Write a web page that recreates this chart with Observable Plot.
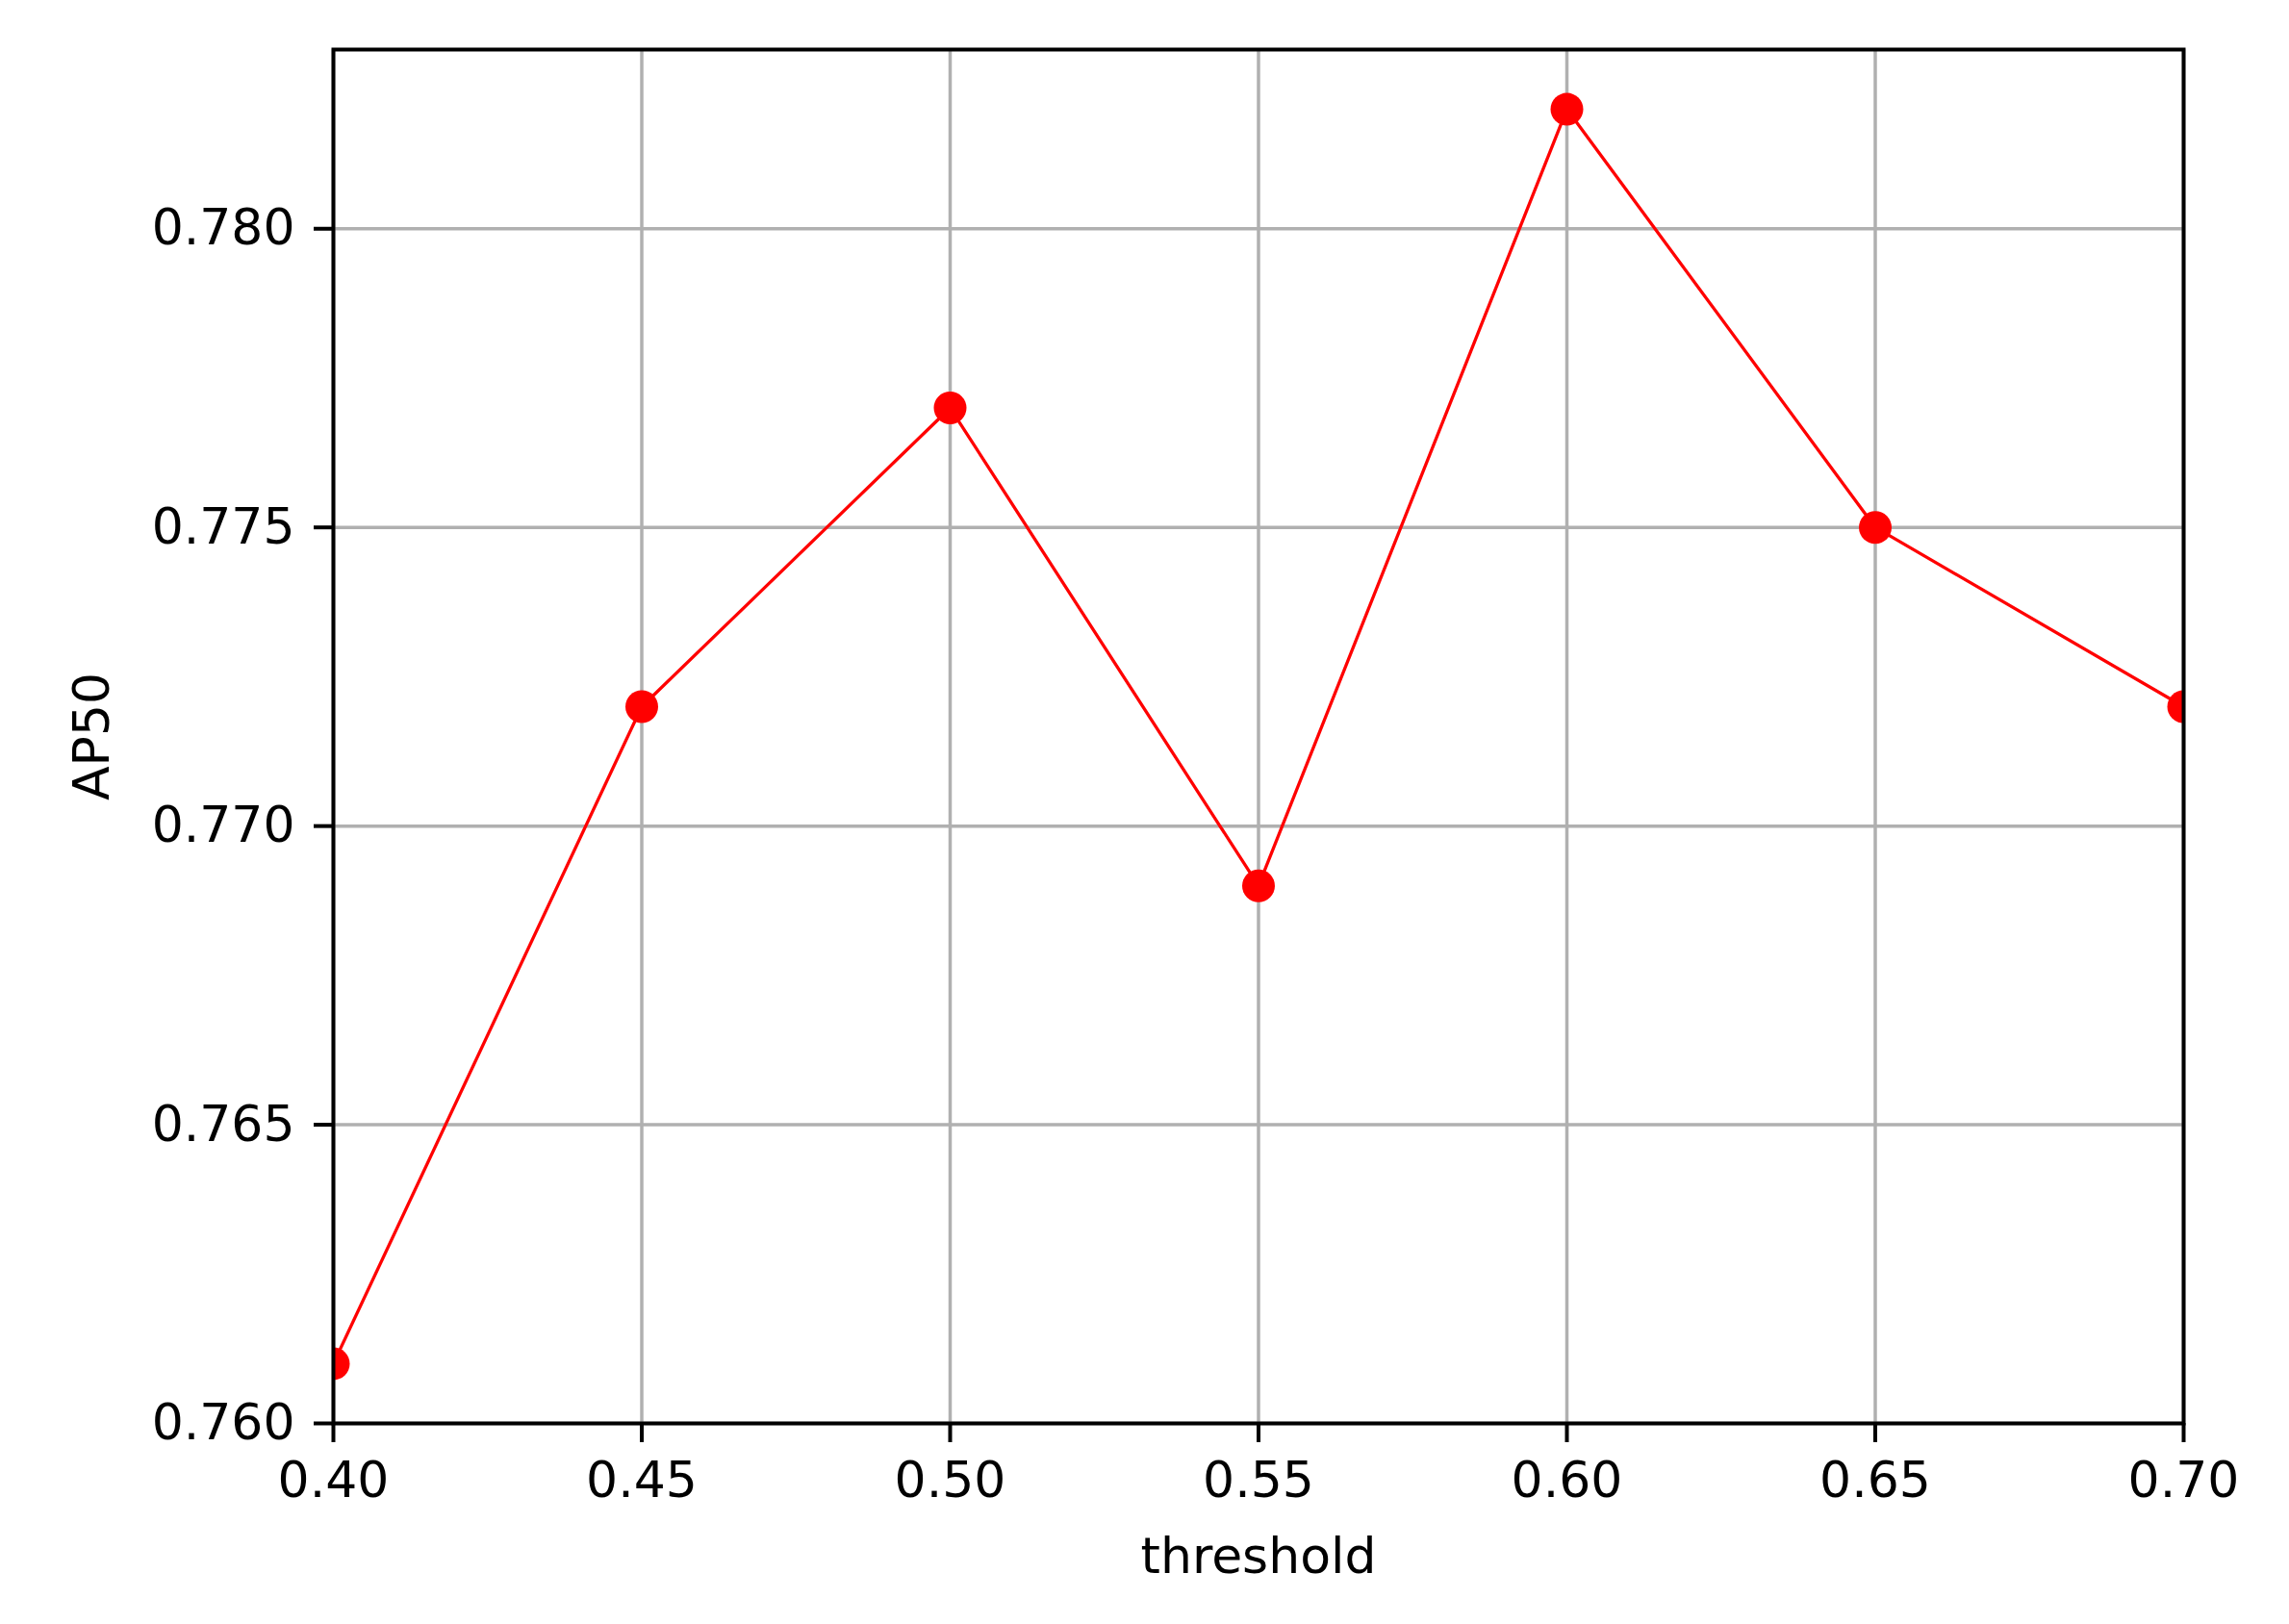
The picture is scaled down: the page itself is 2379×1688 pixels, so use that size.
<!DOCTYPE html>
<html>
<head>
<meta charset="utf-8">
<script src="https://cdn.jsdelivr.net/npm/d3@7"></script>
<script src="https://cdn.jsdelivr.net/npm/@observablehq/plot@0.6"></script>
<style>
  html, body { margin: 0; padding: 0; background: #ffffff; }
  #chart svg { display: block; }
</style>
</head>
<body>
<div id="chart"></div>
<script>
const thresholds = [0.40, 0.45, 0.50, 0.55, 0.60, 0.65, 0.70];
const ap50 = [0.761, 0.772, 0.777, 0.769, 0.782, 0.775, 0.772];
const xTicks = [0.40, 0.45, 0.50, 0.55, 0.60, 0.65, 0.70];
const yTicks = [0.760, 0.765, 0.770, 0.775, 0.780];
const xLabel = "threshold";
const yLabel = "AP50";

const data = thresholds.map((t, i) => ({threshold: t, ap50: ap50[i]}));

const chart = Plot.plot({
  width: 2379,
  height: 1688,
  marginLeft: 346,
  marginRight: 110,
  marginTop: 51,
  marginBottom: 209,
  style: {fontFamily: "DejaVu Sans", background: "#ffffff", color: "#000000"},
  x: {domain: [0.40, 0.70]},
  y: {domain: [0.760, 0.783]},
  marks: [
    Plot.gridX(xTicks, {stroke: "#b0b0b0", strokeOpacity: 1, strokeWidth: 3.5}),
    Plot.gridY(yTicks, {stroke: "#b0b0b0", strokeOpacity: 1, strokeWidth: 3.5}),
    Plot.line(data, {x: "threshold", y: "ap50", stroke: "#ff0000", strokeWidth: 3.3, clip: true}),
    Plot.dot(data, {x: "threshold", y: "ap50", r: 17, fill: "#ff0000", stroke: "none", clip: true}),
    Plot.frame({stroke: "#000000", strokeWidth: 4}),
    Plot.axisX(xTicks, {tickSize: 20, tickPadding: 20, strokeWidth: 4, fontSize: 52, tickFormat: d3.format(".2f"), label: null, fill: "#000000"}),
    Plot.axisY(yTicks, {tickSize: 20, tickPadding: 20, strokeWidth: 4, fontSize: 52, tickFormat: d3.format(".3f"), label: null, fill: "#000000"}),
    Plot.text([xLabel], {frameAnchor: "bottom", textAnchor: "middle", dy: 155, fontSize: 52, fill: "#000000", text: d => d}),
    Plot.text([yLabel], {frameAnchor: "left", textAnchor: "middle", dx: -250, rotate: -90, fontSize: 52, fill: "#000000", text: d => d})
  ]
});
document.getElementById("chart").appendChild(chart);
</script>
</body>
</html>
